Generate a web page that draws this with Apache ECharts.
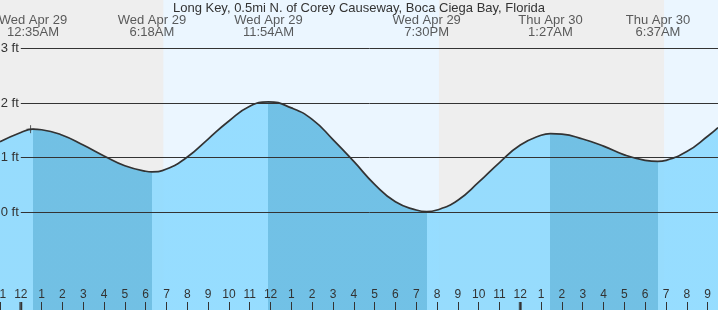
<!DOCTYPE html>
<html><head><meta charset="utf-8">
<script src="https://cdn.jsdelivr.net/npm/echarts@6/dist/echarts.min.js"></script>
<style>html,body{margin:0;padding:0;background:#eeeeee}#chart{width:718px;height:310px}</style>
</head><body><div id="chart"></div>
<script>
// Hours are counted from midnight (start of) Wed Apr 29
const stationTitle = 'Long Key, 0.5mi N. of Corey Causeway, Boca Ciega Bay, Florida';
const readHours = [-1, 0, 1, 2, 3, 4, 5, 6, 7, 8, 9, 10, 11, 13, 14, 15, 16, 17, 18, 19, 20, 21, 22, 23, 24, 25, 26, 27, 28, 29, 30, 31, 32, 33, 33.5];
const readFeet  = [1.29, 1.46, 1.51, 1.41, 1.23, 1.03, 0.85, 0.75, 0.79, 1.01, 1.34, 1.67, 1.94, 1.91, 1.70, 1.33, 0.93, 0.51, 0.19, 0.04, 0.04, 0.22, 0.55, 0.91, 1.23, 1.41, 1.43, 1.34, 1.21, 1.05, 0.95, 0.95, 1.11, 1.39, 1.55];
const extremeHours = [0.583, 6.3, 11.9, 19.5, 25.45, 30.617];
const extremeFeet  = [1.52, 0.74, 2.02, 0.01, 1.44, 0.93];
const extremeDates = ['Wed Apr 29', 'Wed Apr 29', 'Wed Apr 29', 'Wed Apr 29', 'Thu Apr 30', 'Thu Apr 30'];
const extremeTimes = ['12:35AM', '6:18AM', '11:54AM', '7:30PM', '1:27AM', '6:37AM'];
const sunriseHours = [6.85, 30.91];
const sunsetHours = [20.09];
const midnightHours = [0, 24];
const nowPoint = [0.47, 1.52];
const gridFeet = [0, 1, 2, 3];

const xMin = -1, xMax = 33.5, yMin = -1.79, yMax = 3.885;
const FONT = '"Liberation Sans", Arial, sans-serif';
const TXT = '#333';
const LIGHT = '#8ddaff', DARK = '#64bbe3';

const pts = readHours.map((h, i) => [h, readFeet[i]])
  .concat(extremeHours.map((h, i) => [h, extremeFeet[i]]))
  .sort((a, b) => a[0] - b[0]);

const fallingPieces = [];
for (let i = 0; i < extremeHours.length - 1; i++) {
  if (extremeFeet[i] > extremeFeet[i + 1]) fallingPieces.push({min: extremeHours[i], max: extremeHours[i + 1], color: DARK});
}
const dayBands = [[sunriseHours[0], sunsetHours[0]], [sunriseHours[1], xMax]];

const chart = echarts.init(document.getElementById('chart'), null, {renderer: 'canvas'});
chart.setOption({
  animation: false,
  backgroundColor: '#eeeeee',
  textStyle: {fontFamily: FONT},
  title: {text: stationTitle, left: 'center', top: -3.5,
    textStyle: {fontSize: 13, fontWeight: 'normal', color: TXT, fontFamily: FONT}},
  grid: {left: 0, right: 0, top: 0, bottom: 0, containLabel: false, outerBoundsMode: 'none'},
  xAxis: {type: 'value', min: xMin, max: xMax, interval: 1, z: 5,
    axisLine: {show: false, onZero: false}, splitLine: {show: false},
    axisTick: {show: true, inside: true, length: 8, lineStyle: {color: TXT, width: 1}},
    axisLabel: {inside: true, margin: 9, fontSize: 12, color: TXT, fontFamily: FONT,
      formatter: v => Number.isInteger(v) ? String(((v % 12) + 12) % 12 || 12) : ''}},
  yAxis: {type: 'value', min: yMin, max: yMax, show: false},
  visualMap: {type: 'piecewise', show: false, dimension: 0, seriesIndex: 2,
    pieces: fallingPieces, outOfRange: {color: LIGHT}},
  series: [
    {type: 'line', data: [], z: 1, silent: true,
      markArea: {silent: true, itemStyle: {color: '#ebf6ff'},
        data: dayBands.map(b => [{xAxis: b[0]}, {xAxis: b[1]}])}},
    {type: 'line', data: [], z: 2, silent: true,
      markLine: {silent: true, symbol: 'none', label: {show: false},
        lineStyle: {color: TXT, width: 1, type: 'solid'},
        data: gridFeet.map(v => [{coord: [0, v]}, {coord: [xMax, v]}])}},
    {type: 'line', data: pts, z: 3, smooth: true, showSymbol: false, silent: true,
      lineStyle: {color: TXT, width: 1.7},
      areaStyle: {origin: 'start', opacity: 0.9}},
    {type: 'line', data: [], z: 4, silent: true,
      markLine: {silent: true, symbol: 'none', lineStyle: {color: 'rgba(0,0,0,0)', width: 1},
        label: {show: true, position: 'start', distance: 2, fontSize: 13, color: TXT, fontFamily: FONT,
          formatter: p => p.name},
        data: gridFeet.map(v => [{coord: [0, v], name: v + ' ft'}, {coord: [xMax, v]}])}},
    {type: 'scatter', z: 4, clip: false, silent: true, symbolSize: 1, itemStyle: {color: 'rgba(0,0,0,0)'},
      data: extremeHours.map(h => [h, yMax]),
      label: {show: true, position: 'bottom', distance: 13.5, fontSize: 13, lineHeight: 12.5, color: TXT,
        fontFamily: FONT, align: 'center',
        formatter: p => extremeDates[p.dataIndex] + '\n' + extremeTimes[p.dataIndex]}},
    {type: 'scatter', z: 4, silent: true, data: [nowPoint],
      symbol: 'path://M0 4L8 4M4 0L4 8', symbolSize: 8,
      itemStyle: {color: 'none', borderColor: TXT, borderWidth: 1}},
    {type: 'scatter', z: 6, clip: false, silent: true,
      data: midnightHours.map(h => [h, yMin]),
      symbol: 'rect', symbolSize: [3, 8], symbolOffset: [0, -4],
      itemStyle: {color: TXT}}
  ]
});
</script></body></html>
